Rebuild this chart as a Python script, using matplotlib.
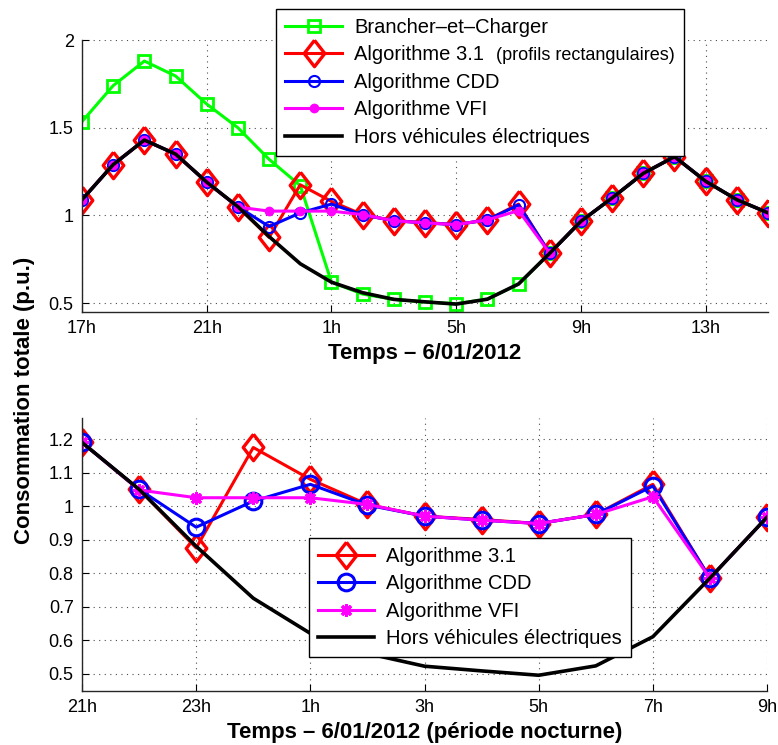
import numpy as np
import matplotlib
matplotlib.use("Agg")
import matplotlib.pyplot as plt
from matplotlib.offsetbox import TextArea

plt.rcParams['font.family'] = ['Liberation Sans', 'DejaVu Sans']

# heures du 6/01/2012 17h au 7/01 15h
hours = [17, 18, 19, 20, 21, 22, 23, 0, 1, 2, 3, 4, 5, 6, 7, 8, 9, 10, 11, 12, 13, 14, 15]
brancher = [1.535, 1.74, 1.88, 1.795, 1.635, 1.50, 1.32, 1.17, 0.62, 0.552, 0.522, 0.507,
            0.497, 0.524, 0.608, 0.785, 0.967, 1.10, 1.24, 1.335, 1.195, 1.09, 1.015]
algo31 = [1.09, 1.29, 1.43, 1.35, 1.19, 1.05, 0.875, 1.175, 1.08, 1.005, 0.97, 0.96,
          0.948, 0.975, 1.065, 0.785, 0.967, 1.10, 1.24, 1.335, 1.195, 1.09, 1.015]
cdd = [1.09, 1.29, 1.43, 1.35, 1.19, 1.05, 0.937, 1.015, 1.065, 1.003, 0.97, 0.958,
       0.948, 0.975, 1.06, 0.785, 0.967, 1.10, 1.24, 1.335, 1.195, 1.09, 1.015]
vfi = [1.09, 1.29, 1.43, 1.35, 1.19, 1.048, 1.025, 1.025, 1.025, 1.005, 0.97, 0.958,
       0.948, 0.975, 1.028, 0.785, 0.967, 1.10, 1.24, 1.335, 1.195, 1.09, 1.015]
hors_ve = [1.09, 1.29, 1.43, 1.35, 1.19, 1.05, 0.88, 0.725, 0.62, 0.56, 0.522, 0.508,
           0.495, 0.523, 0.61, 0.785, 0.967, 1.10, 1.24, 1.335, 1.195, 1.09, 1.015]

top_ticks = [17, 21, 1, 5, 9, 13]
top_yticks = [0.5, 1, 1.5, 2]
top_ylabels = ['0.5', '1', '1.5', '2']

# zoom nocturne : 21h -> 9h
night = slice(4, 17)
night_ticks = [21, 23, 1, 3, 5, 7, 9]
night_yticks = [0.5, 0.6, 0.7, 0.8, 0.9, 1.0, 1.1, 1.2]
night_ylabels = ['0.5', '0.6', '0.7', '0.8', '0.9', '1', '1.1', '1.2']

diamond = [(0, 1), (0.78, 0), (0, -1), (-0.78, 0), (0, 1)]
lw = 2.2
leg_kw = dict(fontsize=14.5, frameon=True, fancybox=False, edgecolor='black',
              framealpha=1, handlelength=2.8, handletextpad=0.6, labelspacing=0.42,
              borderpad=0.45, borderaxespad=0)


def style_axes(ax):
    ax.spines['top'].set_visible(False)
    ax.spines['right'].set_visible(False)
    for s in ['left', 'bottom']:
        ax.spines[s].set_color('0.15')
        ax.spines[s].set_linewidth(1.0)
    ax.tick_params(direction='in', length=5, width=0.8, labelsize=13, pad=6,
                   top=False, right=False)
    ax.grid(True, color='0.3', linewidth=0.8, linestyle=(0, (1, 4)))
    ax.set_axisbelow(True)


fig = plt.figure(figsize=(7.78, 7.45), dpi=100)
ax1 = fig.add_axes([0.1054, 0.5812, 0.8818, 0.3651])
ax2 = fig.add_axes([0.1054, 0.0725, 0.8805, 0.3664])

x = np.arange(len(hours))
ax1.plot(x, brancher, color=(0, 1, 0), lw=lw, marker='s', ms=8, mew=2,
         mfc='none', label='Brancher–et–Charger')
ax1.plot(x, algo31, color='red', lw=lw, marker=diamond, ms=19, mew=2.4,
         mfc='none', label='Algorithme 3.1')
ax1.plot(x, cdd, color='blue', lw=lw, marker='o', ms=8, mew=1.5,
         mfc='none', label='Algorithme CDD')
ax1.plot(x, vfi, color='magenta', lw=lw, marker='o', ms=6,
         label='Algorithme VFI')
ax1.plot(x, hors_ve, color='black', lw=2.6, label='Hors véhicules électriques')
style_axes(ax1)
ax1.set_xlim(0, len(hours) - 1)
ax1.set_ylim(0.45, 2.0)
ax1.set_xticks([hours.index(h) for h in top_ticks], [f'{h}h' for h in top_ticks])
ax1.set_yticks(top_yticks, top_ylabels)
ax1.set_xlabel('Temps – 6/01/2012', fontsize=16, fontweight='bold', labelpad=4)

leg1 = ax1.legend(loc='upper right', bbox_to_anchor=(0.879, 0.988),
                  bbox_transform=fig.transFigure, **leg_kw)
leg1.get_frame().set_linewidth(1.0)
# petit texte "(profils rectangulaires)" sur la meme ligne de legende
row = leg1._legend_handle_box.get_children()[0].get_children()[1]
extra = TextArea('(profils rectangulaires)', textprops=dict(fontsize=13))
extra.set_figure(fig)
row.get_children().append(extra)

hn = hours[night]
xn = np.arange(len(hn))
ax2.plot(xn, algo31[night], color='red', lw=lw, marker=diamond, ms=19, mew=2.4,
         mfc='none', label='Algorithme 3.1')
ax2.plot(xn, cdd[night], color='blue', lw=lw, marker='o', ms=12, mew=2.2,
         mfc='none', label='Algorithme CDD')
ax2.plot(xn, vfi[night], color='magenta', lw=lw, marker=(8, 2, 0), ms=9, mew=2.2,
         label='Algorithme VFI')
ax2.plot(xn, hors_ve[night], color='black', lw=2.6, label='Hors véhicules électriques')
style_axes(ax2)
ax2.set_xlim(0, len(hn) - 1)
ax2.set_ylim(0.448, 1.263)
ax2.set_xticks([hn.index(h) for h in night_ticks], [f'{h}h' for h in night_ticks])
ax2.set_yticks(night_yticks, night_ylabels)
ax2.set_xlabel('Temps – 6/01/2012 (période nocturne)', fontsize=16,
               fontweight='bold', labelpad=4)

leg2 = ax2.legend(loc='upper right', bbox_to_anchor=(0.811, 0.278),
                  bbox_transform=fig.transFigure, **leg_kw)
leg2.get_frame().set_linewidth(1.0)

fig.text(0.031, 0.462, 'Consommation totale (p.u.)', rotation=90, fontsize=16,
         fontweight='bold', ha='center', va='center')

fig.savefig('out.png', dpi=100)
